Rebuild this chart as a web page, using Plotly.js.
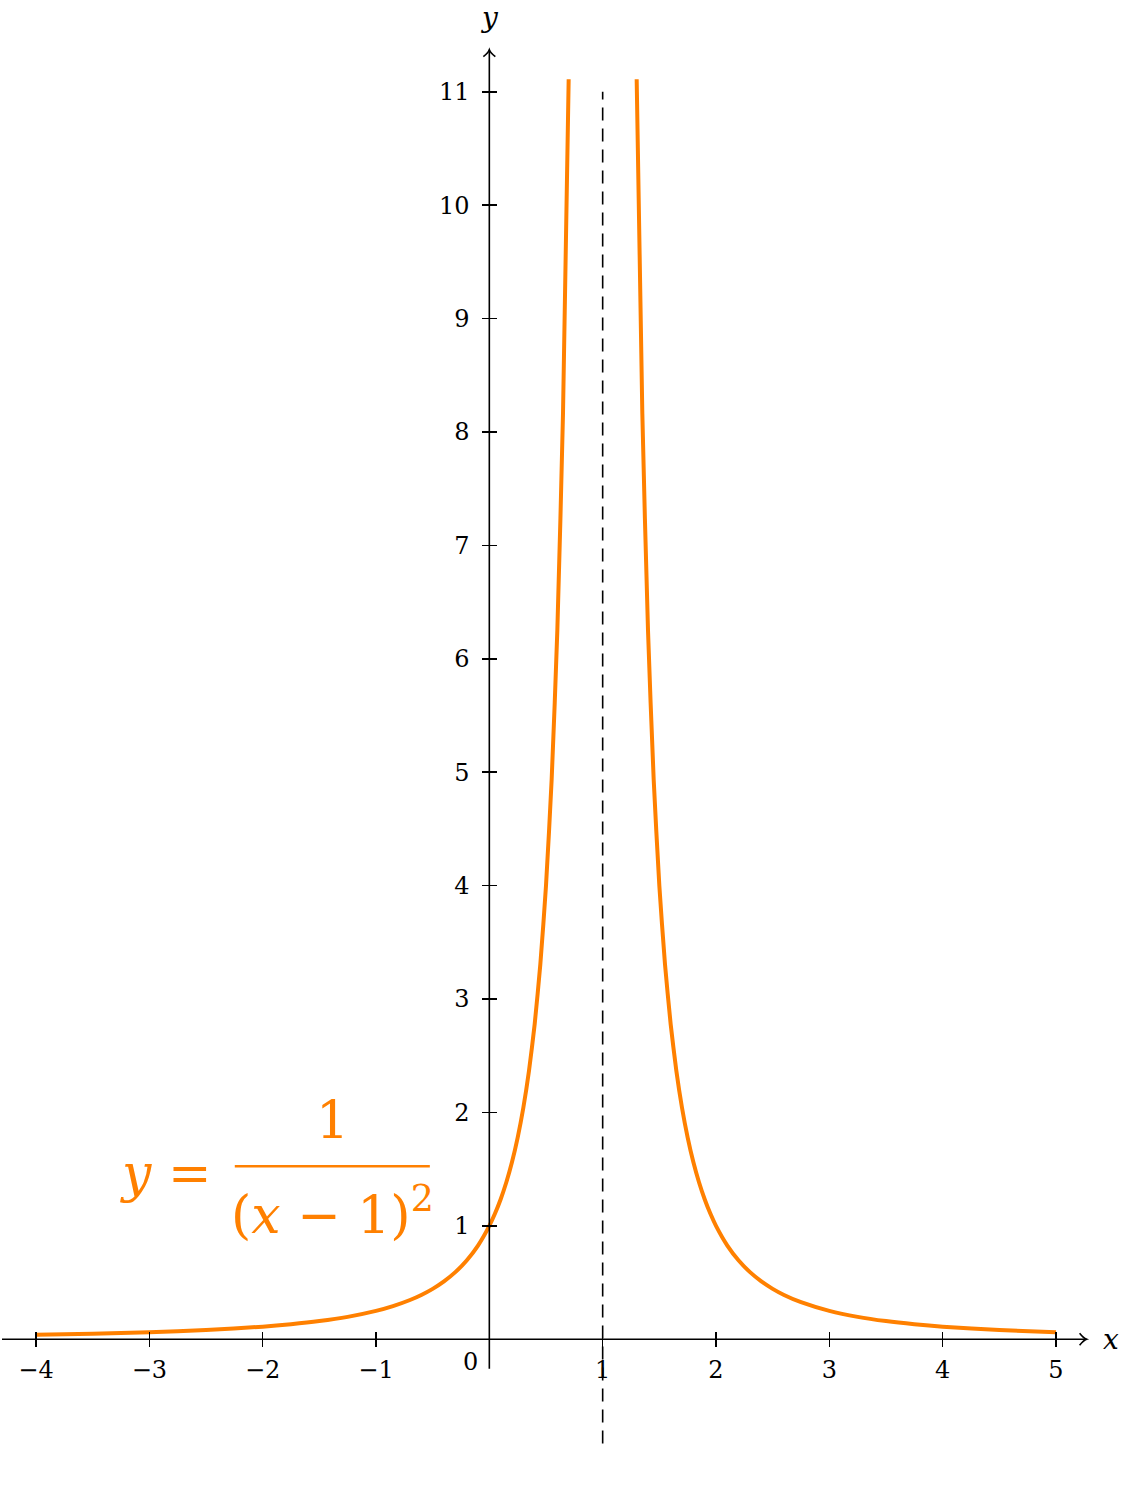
<!DOCTYPE html>
<html>
<head>
<meta charset="utf-8">
<script src="https://cdn.plot.ly/plotly-3.0.1.min.js"></script>
<style>
  html, body { margin: 0; padding: 0; background: #fff; }
  #chart { width: 1125px; height: 1485px; }
</style>
</head>
<body>
<div id="chart"></div>
<script>
// Werte: y = 1/(x-1)^2, linker und rechter Ast
const linksX = [-4, -3.5, -3, -2.5, -2, -1.75, -1.5, -1.25, -1, -0.85, -0.7, -0.6, -0.5, -0.4, -0.3, -0.2, -0.1, 0, 0.05, 0.1, 0.15, 0.2, 0.25, 0.3, 0.35, 0.4, 0.45, 0.5, 0.55, 0.6, 0.65, 0.7];
const linksY = [0.04, 0.0494, 0.0625, 0.0816, 0.1111, 0.1322, 0.16, 0.1975, 0.25, 0.2922, 0.346, 0.3906, 0.4444, 0.5102, 0.5917, 0.6944, 0.8264, 1.0, 1.108, 1.2346, 1.384, 1.5625, 1.778, 2.041, 2.367, 2.778, 3.306, 4.0, 4.938, 6.25, 8.163, 11.11];
const rechtsX = [1.3, 1.35, 1.4, 1.45, 1.5, 1.55, 1.6, 1.65, 1.7, 1.75, 1.8, 1.85, 1.9, 1.95, 2, 2.1, 2.2, 2.3, 2.4, 2.5, 2.6, 2.75, 3, 3.25, 3.5, 3.75, 4, 4.5, 5];
const rechtsY = [11.11, 8.163, 6.25, 4.938, 4.0, 3.306, 2.778, 2.367, 2.041, 1.778, 1.5625, 1.384, 1.2346, 1.108, 1.0, 0.8264, 0.6944, 0.5917, 0.5102, 0.4444, 0.3906, 0.3265, 0.25, 0.1975, 0.16, 0.1322, 0.1111, 0.0816, 0.0625];

// senkrechte Asymptote x = 1
const asymptoteX = [1, 1];
const asymptoteY = [-0.92, 11];

const xTicks = [-4, -3, -2, -1, 1, 2, 3, 4, 5];
const xTickText = ["−4", "−3", "−2", "−1", "1", "2", "3", "4", "5"];
const yTicks = [1, 2, 3, 4, 5, 6, 7, 8, 9, 10, 11];
const yTickText = yTicks.map(String);

const orange = "#ff8000";
const schrift = "DejaVu Serif";

const xRange = [-4.3, 5.3];
const yRange = [-1.1, 11.5];
const xPos = (0 - yRange[0]) / (yRange[1] - yRange[0]);
const yPos = (0 - xRange[0]) / (xRange[1] - xRange[0]);

const daten = [
  {
    x: asymptoteX, y: asymptoteY, xaxis: "x2", yaxis: "y2",
    type: "scatter", mode: "lines",
    line: { color: "black", width: 1.6, dash: "13px,8px" },
    hoverinfo: "skip",
  },
  {
    x: linksX, y: linksY, type: "scatter", mode: "lines",
    line: { color: orange, width: 4, shape: "spline", smoothing: 0.6 }, hoverinfo: "x+y",
  },
  {
    x: rechtsX, y: rechtsY, type: "scatter", mode: "lines",
    line: { color: orange, width: 4, shape: "spline", smoothing: 0.6 }, hoverinfo: "x+y",
  },
];

const achseBasis = {
  showgrid: false,
  zeroline: false,
  showline: false,
  ticklen: 7,
  tickwidth: 1.6,
  tickcolor: "black",
  ticks: "outside",
  tickfont: { family: schrift, size: 24, color: "black" },
};

const layout = {
  width: 1125,
  height: 1485,
  showlegend: false,
  margin: { t: 35, r: 35, b: 21, l: 2 },
  paper_bgcolor: "white",
  plot_bgcolor: "white",
  xaxis: {
    ...achseBasis, range: xRange, anchor: "free", position: xPos, side: "bottom",
    tickmode: "array", tickvals: xTicks, ticktext: xTickText, ticklabelstandoff: 2,
  },
  yaxis: {
    ...achseBasis, range: yRange, anchor: "free", position: yPos, side: "left",
    tickmode: "array", tickvals: yTicks, ticktext: yTickText, ticklabelstandoff: 8,
  },
  xaxis2: {
    ...achseBasis, range: xRange, overlaying: "x", anchor: "free", position: xPos, side: "top",
    tickmode: "array", tickvals: xTicks, showticklabels: false,
  },
  yaxis2: {
    ...achseBasis, range: yRange, overlaying: "y", anchor: "free", position: yPos, side: "right",
    tickmode: "array", tickvals: yTicks, showticklabels: false,
  },
  shapes: [
    // Achsenlinien
    { type: "line", x0: -4.3, x1: 5.27, y0: 0, y1: 0, line: { color: "black", width: 1.6 } },
    { type: "line", x0: 0, x1: 0, y0: -0.26, y1: 11.37, line: { color: "black", width: 1.6 } },
    // Pfeilspitzen
    {
      type: "path", xsizemode: "pixel", ysizemode: "pixel", xanchor: 5.27, yanchor: 0,
      path: "M -7 6 Q -3 1 0 0 Q -3 -1 -7 -6", line: { color: "black", width: 1.6 },
    },
    {
      type: "path", xsizemode: "pixel", ysizemode: "pixel", xanchor: 0, yanchor: 11.37,
      path: "M -6 -7 Q -1 -3 0 0 Q 1 -3 6 -7", line: { color: "black", width: 1.6 },
    },
    // Bruchstrich der Formel
    { type: "line", x0: -2.246, x1: -0.525, y0: 1.526, y1: 1.526, line: { color: orange, width: 2.5 } },
  ],
  annotations: [
    { x: 5.27, xshift: 14, y: 0, xanchor: "left", yanchor: "middle", showarrow: false,
      text: "<i>x</i>", font: { family: schrift, size: 28, color: "black" } },
    { x: 0, y: 11.37, yshift: 32, xanchor: "center", yanchor: "middle", showarrow: false,
      text: "<i>y</i>", font: { family: schrift, size: 28, color: "black" } },
    { x: -0.17, y: -0.2, xanchor: "center", yanchor: "middle", showarrow: false,
      text: "0", font: { family: schrift, size: 24, color: "black" } },
    { x: -2.43, y: 1.47, xanchor: "right", yanchor: "middle", showarrow: false,
      text: "<i>y</i> =", font: { family: schrift, size: 52, color: orange } },
    { x: -1.381, y: 1.93, xanchor: "center", yanchor: "middle", showarrow: false,
      text: "1", font: { family: schrift, size: 52, color: orange } },
    { x: -1.385, y: 1.13, xanchor: "center", yanchor: "middle", showarrow: false,
      text: "(<i>x</i> − 1)<sup>2</sup>", font: { family: schrift, size: 52, color: orange } },
  ],
};

Plotly.newPlot("chart", daten, layout, { displayModeBar: false, staticPlot: true });
</script>
</body>
</html>
